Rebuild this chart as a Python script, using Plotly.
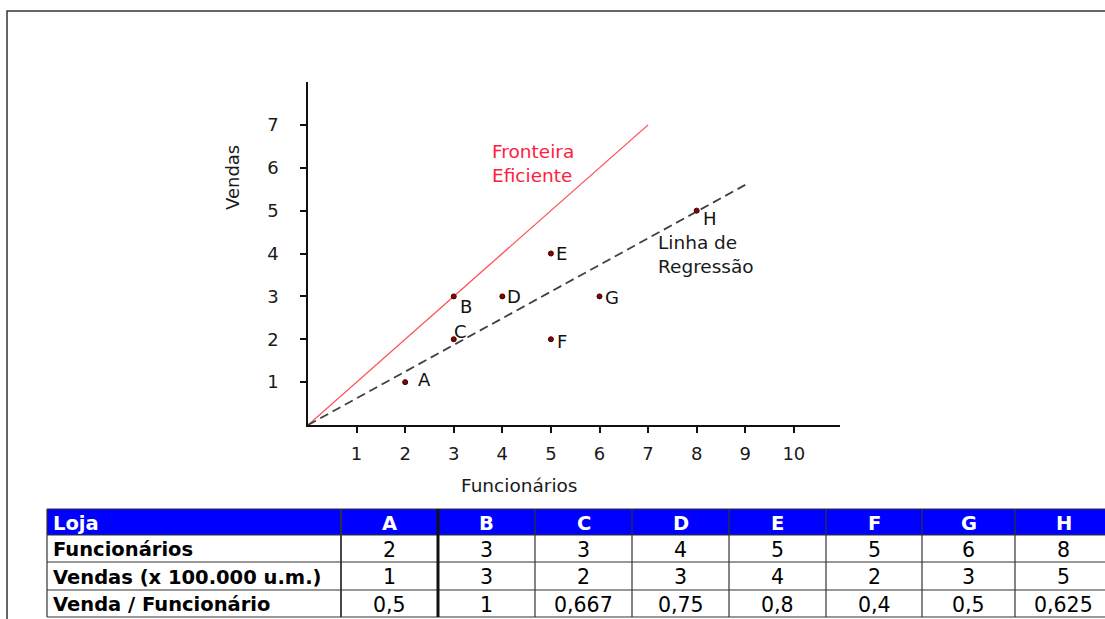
import plotly.graph_objects as go

# ---- data ----
lojas = ["A", "B", "C", "D", "E", "F", "G", "H"]
funcionarios = [2, 3, 3, 4, 5, 5, 6, 8]
vendas = [1, 3, 2, 3, 4, 2, 3, 5]
venda_func = ["0,5", "1", "0,667", "0,75", "0,8", "0,4", "0,5", "0,625"]
fronteira_x = [0, 7]
fronteira_y = [0, 7]
regressao_x = [0, 9]
regressao_y = [0, 5.6]
x_ticks = [1, 2, 3, 4, 5, 6, 7, 8, 9, 10]
y_ticks = [1, 2, 3, 4, 5, 6, 7]
header_label = "Loja"
row_labels = ["Funcionários", "Vendas (x 100.000 u.m.)", "Venda / Funcionário"]

# ---- style / layout (px) ----
label_shift = {"A": (19, 3), "B": (12, -10), "C": (7, 8), "D": (12, 0),
               "E": (11, 0), "F": (11, -2), "G": (12, -1), "H": (13, -8)}
col_edges = [47, 341, 438, 535, 632, 729, 826, 922, 1015, 1112]
row_edges = [509, 535, 562, 590, 617]

W, H = 1105, 619
FONT = "DejaVu Sans"
FS = 18


def px(x):
    return x / W


def py(y):
    return 1 - y / H


fig = go.Figure()

fig.add_trace(go.Scatter(x=fronteira_x, y=fronteira_y, mode="lines",
                         line=dict(color="#ff4d55", width=1.3),
                         showlegend=False, hoverinfo="skip"))
fig.add_trace(go.Scatter(x=regressao_x, y=regressao_y, mode="lines",
                         line=dict(color="#404040", width=1.8, dash="9px,5px"),
                         showlegend=False, hoverinfo="skip"))
fig.add_trace(go.Scatter(x=funcionarios, y=vendas, mode="markers",
                         marker=dict(size=5, color="#8b0000",
                                     line=dict(color="#3a0000", width=1)),
                         showlegend=False))

for lj, xv, yv in zip(lojas, funcionarios, vendas):
    dx, dy = label_shift[lj]
    fig.add_annotation(x=xv, y=yv, xref="x", yref="y", text=lj, showarrow=False,
                       xshift=dx, yshift=dy, xanchor="center", yanchor="middle",
                       font=dict(family=FONT, size=FS, color="#111"))

fig.add_annotation(x=px(490), y=py(139), xref="paper", yref="paper",
                   text="Fronteira<br>Eficiente", showarrow=False,
                   xanchor="left", yanchor="top", align="left",
                   font=dict(family=FONT, size=18.5, color="#ff2040"))
fig.add_annotation(x=px(656), y=py(230), xref="paper", yref="paper",
                   text="Linha de<br>Regressão", showarrow=False,
                   xanchor="left", yanchor="top", align="left",
                   font=dict(family=FONT, size=18.5, color="#1a1a1a"))
fig.add_annotation(x=px(232), y=py(178), xref="paper", yref="paper",
                   text="Vendas", showarrow=False, textangle=-90,
                   xanchor="center", yanchor="middle",
                   font=dict(family=FONT, size=18, color="#1a1a1a"))
fig.add_annotation(x=px(519), y=py(486), xref="paper", yref="paper",
                   text="Funcionários", showarrow=False,
                   xanchor="center", yanchor="middle",
                   font=dict(family=FONT, size=18.5, color="#1a1a1a"))

# ---- table built from the arrays ----
shapes = []
shapes.append(dict(type="rect", xref="paper", yref="paper",
                   x0=px(col_edges[0]), x1=px(col_edges[-1]),
                   y0=py(row_edges[1]), y1=py(row_edges[0]),
                   fillcolor="#0000ff", line=dict(width=0), layer="below"))
for ry in row_edges:
    shapes.append(dict(type="line", xref="paper", yref="paper",
                       x0=px(col_edges[0]), x1=px(col_edges[-1]),
                       y0=py(ry), y1=py(ry),
                       line=dict(color="#333", width=1.2)))
for i, cx in enumerate(col_edges):
    wdt = 3 if i == 2 else (1.8 if i == 1 else 1.2)
    shapes.append(dict(type="line", xref="paper", yref="paper",
                       x0=px(cx), x1=px(cx),
                       y0=py(row_edges[-1]), y1=py(row_edges[0]),
                       line=dict(color="#111" if i == 2 else "#333", width=wdt)))

rows = [[header_label] + lojas,
        [row_labels[0]] + [str(v) for v in funcionarios],
        [row_labels[1]] + [str(v) for v in vendas],
        [row_labels[2]] + venda_func]
for r, row in enumerate(rows):
    yc = (row_edges[r] + row_edges[r + 1]) / 2
    for c, val in enumerate(row):
        bold = (r == 0) or (c == 0)
        color = "white" if r == 0 else "#000"
        txt = "<b>%s</b>" % val if bold else val
        if c == 0:
            xa, xpos = "left", px(col_edges[0] + 4)
            size = 19.5
        else:
            xa, xpos = "center", px((col_edges[c] + col_edges[c + 1]) / 2)
            size = 19.5 if r == 0 else 20.5
        fig.add_annotation(x=xpos, y=py(yc + 1), xref="paper", yref="paper",
                           text=txt, showarrow=False, xanchor=xa,
                           yanchor="middle",
                           font=dict(family=FONT, size=size, color=color))

shapes.append(dict(type="rect", xref="paper", yref="paper", x0=px(7), x1=1.2,
                   y0=-0.2, y1=py(11), line=dict(color="#333", width=1.5)))

fig.update_layout(
    width=W, height=H, margin=dict(l=0, r=0, t=0, b=0),
    paper_bgcolor="white", plot_bgcolor="white",
    font=dict(family=FONT, size=FS, color="#1a1a1a"),
    shapes=shapes,
    xaxis=dict(domain=[px(308), px(840)], range=[0, 10.95],
               tickvals=x_ticks, ticks="outside", ticklen=6, tickwidth=1.5,
               tickcolor="#111", showline=True, linecolor="#111", linewidth=1.5,
               showgrid=False, zeroline=False, ticklabelstandoff=6,
               tickfont=dict(family=FONT, size=FS, color="#1a1a1a")),
    yaxis=dict(domain=[py(425), py(82)], range=[0, 8.0],
               tickvals=y_ticks, ticks="outside", ticklen=6, tickwidth=1.5,
               tickcolor="#111", showline=True, linecolor="#111", linewidth=1.5,
               showgrid=False, zeroline=False, ticklabelstandoff=18,
               tickfont=dict(family=FONT, size=FS, color="#1a1a1a")),
)

fig.write_html("out.html", config={"displayModeBar": False},
               post_script="document.body.style.margin='0';document.body.style.overflow='hidden';")
